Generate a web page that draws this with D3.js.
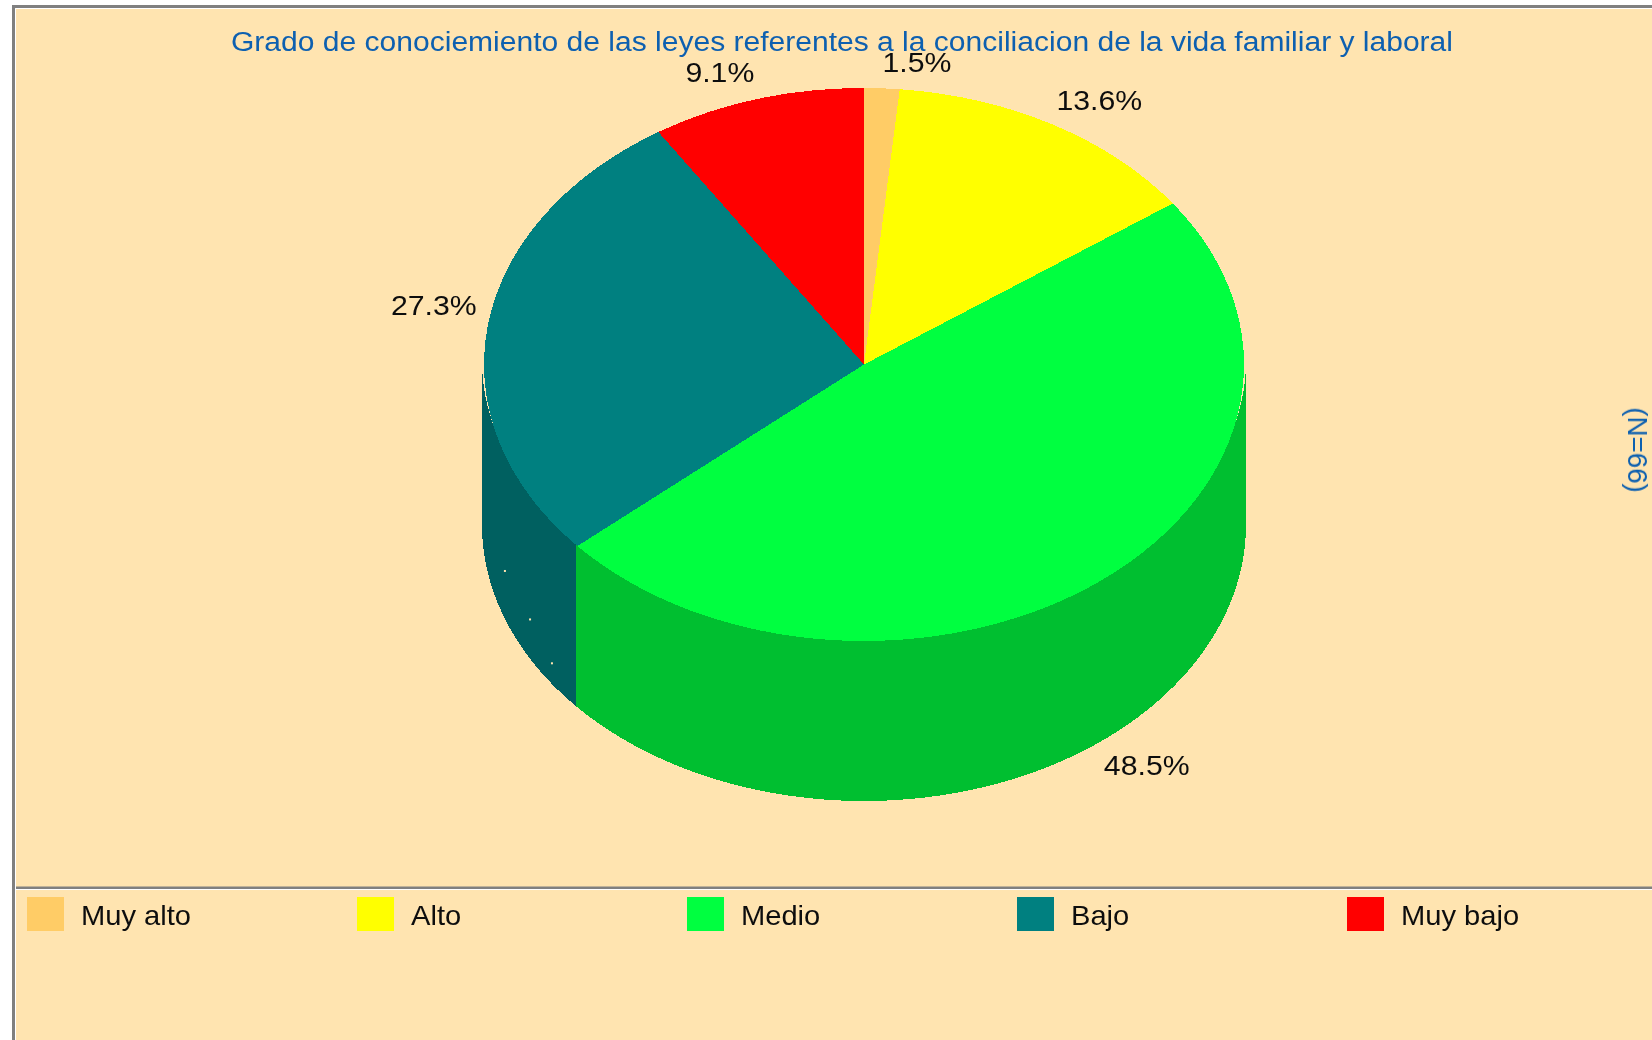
<!DOCTYPE html>
<html lang="es">
<head>
	<meta charset="utf-8" />
	<title>Grado de conocimiento</title>
	<style type="text/css">
		html, body { margin: 0; padding: 0; background: #fff; overflow: hidden; }
		text { font-family: "Liberation Sans", Arial, sans-serif; }
	</style>
</head>
<body>
	<div id="graph"></div>
	<script src="https://d3js.org/d3.v7.min.js"></script>
	<script type="text/javascript">
		const CHART_WIDTH = 1652;
		const CHART_HEIGHT = 1040;

		const titleText = "Grado de conociemiento de las leyes referentes a la conciliacion de la vida familiar y laboral";
		const sideText = "(N=66)";
		const categories = ["Muy alto", "Alto", "Medio", "Bajo", "Muy bajo"];
		const shares = [1.5, 13.6, 48.5, 27.3, 9.1];
		const colours = ["#FFCC66", "#FFFF00", "#00FF40", "#008080", "#FF0000"];

		// label nudge from the rim point of each slice
		const labelNudgeX = [35, 46, 47, -54, -37];
		const labelNudgeY = [-26, -25, 24, -20, -27];

		// the three stray pale pixels on the dark wall: angle in degrees, drop below the rim
		const speckAngles = [250.9, 241.5, 235.2];
		const speckDrops = [116, 123, 141];

		const cx = 864, cy = 364.5, rx = 380, ry = 276.5, depth = 160;
		const wallRx = rx + 2;
		const bg = "#FFE4B0", edge = "#808080", blue = "#1060B0";

		var svg = d3.select("#graph").append("svg")
			.attr("width", CHART_WIDTH)
			.attr("height", CHART_HEIGHT)
			.style("display", "block");

		// slight softening, the original text is an enlarged bitmap
		svg.append("defs").append("filter").attr("id", "soft")
			.append("feGaussianBlur").attr("stdDeviation", 0.55);

		// panel and frame
		svg.append("rect").attr("x", 15).attr("y", 8).attr("width", CHART_WIDTH).attr("height", CHART_HEIGHT).attr("fill", bg);
		svg.append("path").attr("fill", "none").attr("stroke", edge).attr("stroke-width", 3)
			.attr("d", `M13.5,${CHART_HEIGHT}V6.5H${CHART_WIDTH}M15,888H${CHART_WIDTH}`);
		svg.append("path").attr("fill", "none").attr("stroke", "#fff").attr("stroke-width", 1)
			.attr("d", `M15.5,${CHART_HEIGHT}V8.5H${CHART_WIDTH}M15.5,889.5H${CHART_WIDTH}`);

		var slices = d3.pie().sort(null).value(d => d)(shares);

		// angles run clockwise from the top, as in d3.pie
		const rimX = a => cx + rx * Math.sin(a);
		const rimY = a => cy - ry * Math.cos(a);
		const wallX = a => cx + wallRx * Math.sin(a);

		var line = d3.line().x(d => d[0]).y(d => d[1]);

		// side wall: only the part of a slice facing the viewer
		// its top edge runs a little high so it tucks under the top face
		function wall(d) {
			var a0 = Math.max(d.startAngle, Math.PI / 2);
			var a1 = Math.min(d.endAngle, 3 * Math.PI / 2);
			if (a1 <= a0) return null;
			var steps = d3.range(0, 121).map(t => a0 + (a1 - a0) * t / 120);
			var top = steps.map(a => [wallX(a), rimY(a) - 4 - 10 * Math.abs(Math.cos(a))]);
			var bottom = steps.slice().reverse().map(a => [wallX(a), rimY(a) + depth]);
			return line(top.concat(bottom)) + "Z";
		}

		svg.append("g").selectAll("path")
			.data(slices)
			.enter().append("path")
			.attr("d", wall)
			.attr("shape-rendering", "crispEdges")
			.attr("fill", (d, i) => {
				var c = d3.rgb(colours[i]);
				return d3.rgb(c.r * 0.75, c.g * 0.75, c.b * 0.75);
			});

		var arc = d3.arc().innerRadius(0).outerRadius(rx);
		svg.append("g")
			.attr("transform", `translate(${cx},${cy}) scale(1,${ry / rx})`)
			.selectAll("path")
			.data(slices)
			.enter().append("path")
			.attr("d", arc)
			.attr("shape-rendering", "crispEdges")
			.attr("fill", (d, i) => colours[i]);

		svg.append("g").selectAll("rect")
			.data(speckAngles)
			.enter().append("rect")
			.attr("x", d => rimX(d * Math.PI / 180) - 1)
			.attr("y", (d, i) => rimY(d * Math.PI / 180) + speckDrops[i] - 1)
			.attr("width", 2)
			.attr("height", 2)
			.attr("fill", bg);

		var labels = svg.append("g").attr("filter", "url(#soft)");

		// percent labels, glyphs widened a bit like the original bitmap font
		labels.append("g").selectAll("text")
			.data(slices)
			.enter().append("text")
			.attr("transform", (d, i) => {
				var a = (d.startAngle + d.endAngle) / 2;
				var x = rimX(a) + labelNudgeX[i];
				var y = rimY(a) + (Math.cos(a) < 0 ? depth : 0) + labelNudgeY[i];
				return `translate(${x},${y}) scale(1.08,1)`;
			})
			.attr("dy", "0.35em")
			.attr("text-anchor", "middle")
			.attr("font-size", 28)
			.attr("fill", "#111")
			.text((d, i) => shares[i].toFixed(1) + "%");

		labels.append("text")
			.attr("x", 842).attr("y", 41.5).attr("dy", "0.35em")
			.attr("text-anchor", "middle")
			.attr("font-size", 27)
			.attr("textLength", 1222)
			.attr("lengthAdjust", "spacingAndGlyphs")
			.attr("fill", blue)
			.text(titleText);

		labels.append("text")
			.attr("transform", "translate(1637,450) rotate(90) scale(1.03,1)")
			.attr("dy", "0.35em")
			.attr("text-anchor", "middle")
			.attr("font-size", 27)
			.attr("fill", blue)
			.text(sideText);

		// legend
		var legendX = d3.scalePoint().domain(categories).range([27, 27 + 330 * 4]);
		labels.append("g").selectAll("text")
			.data(categories)
			.enter().append("text")
			.attr("transform", d => `translate(${legendX(d) + 54},915) scale(1.04,1)`)
			.attr("dy", "0.35em")
			.attr("font-size", 28)
			.attr("fill", "#111")
			.text(d => d);

		svg.append("g").selectAll("rect")
			.data(categories)
			.enter().append("rect")
			.attr("x", d => legendX(d))
			.attr("y", 897)
			.attr("width", 37)
			.attr("height", 34)
			.attr("fill", (d, i) => colours[i]);
	</script>
</body>
</html>
